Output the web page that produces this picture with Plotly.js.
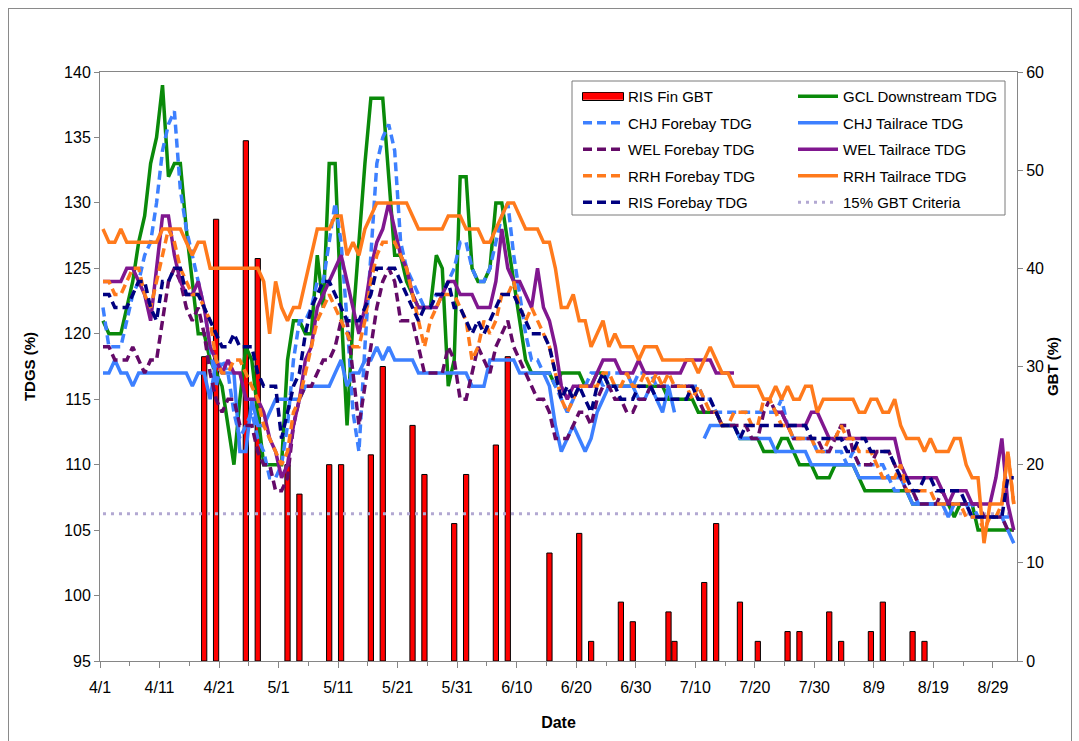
<!DOCTYPE html>
<html><head><meta charset="utf-8">
<script src="https://cdn.plot.ly/plotly-3.0.1.min.js"></script>
<style>
html,body{margin:0;padding:0;background:#fff;overflow:hidden}
#chart{position:absolute;left:0;top:0;width:1079px;height:741px}
#frame{position:absolute;left:8px;top:8px;width:1064px;height:760px;border:1px solid #8a8a8a;box-sizing:border-box;pointer-events:none}
</style></head><body>
<div id="chart"></div><div id="frame"></div>
<script>
const YEAR = 2010;
// Daily TDG series start on 4/1 (one value per day, 4/1 .. 9/1)
const tdgStart = '4/1';

// RIS Fin GBT (%), right axis
const gbtDates = ['4/18','4/20','4/25','4/27','5/2','5/4','5/9','5/11','5/16','5/18','5/23','5/25','5/30','6/1','6/6','6/8','6/15','6/20','6/22','6/27','6/29','7/5','7/6','7/11','7/13','7/17','7/20','7/25','7/27','8/1','8/3','8/8','8/10','8/15','8/17'];
const gbtValues = [31,45,53,41,20,17,20,20,21,30,24,19,14,19,22,31,11,13,2,6,4,5,2,8,14,6,2,3,3,5,2,3,6,3,2];

const criteriaDates = ['4/1','9/1'];
const criteriaValues = [15,15];

const gcl = [
121,120,120,120,122,124,127,129,133,135,139,132,133,133,128,124,120,120,118,117,116,113,110,115,119,118,114,110,110,110,
110,118,121,121,120,120,126,122,133,133,122,113,121,127,133,138,138,138,132,126,126,124,123,122,122,122,126,125,116,118,132,
132,125,124,124,125,130,130,127,124,121,118,117,117,117,117,116,117,117,117,117,116,116,117,117,116,116,116,116,116,116,
116,116,116,116,115,115,115,115,115,114,114,114,114,113,113,113,112,112,112,112,111,111,111,112,112,111,110,110,110,109,109,
109,110,110,110,110,109,108,108,108,108,108,108,108,108,107,107,107,107,107,107,107,106,107,107,107,105,105,105,105,105,105,
105];
const chjFore = [
122,119,119,119,121,123,124,126,127,130,134,136,137,131,128,126,124,122,119,116,118,117,114,112,113,114,112,111,109,109,
110,113,118,121,121,122,124,124,127,130,127,121,114,111,119,126,133,135,136,134,127,125,124,123,122,122,123,123,124,125,127,
127,125,124,124,125,127,129,130,126,123,120,118,118,117,117,116,115,114,115,116,116,117,117,116,117,117,117,117,116,117,
117,117,116,116,116,116,116,116,116,116,115,115,114,114,114,114,114,114,114,114,114,114,114,115,113,112,112,112,112,111,111,
111,111,111,110,111,110,110,110,110,110,109,108,108,108,108,107,107,107,107,107,107,107,107,107,107,106,106,106,106,106,106,
106];
const chjTail = [
117,117,118,117,117,116,117,117,117,117,117,117,117,117,117,116,117,117,115,118,117,117,117,111,111,115,113,113,114,115,
115,115,115,115,116,116,116,116,116,117,118,116,117,117,118,118,119,118,119,118,118,118,118,117,117,117,117,117,117,117,117,
117,116,116,116,118,118,118,118,118,117,117,117,117,117,116,113,111,112,113,112,111,112,114,115,116,116,116,116,116,115,
115,116,115,114,116,114,null,null,null,null,112,113,113,113,113,113,112,112,112,112,112,112,111,111,111,111,111,111,110,110,110,
110,110,110,110,110,109,109,109,109,109,109,109,109,108,107,107,107,107,107,107,106,107,107,107,106,106,106,106,106,106,105,
104];
const welFore = [
119,119,118,118,118,119,118,117,118,118,121,124,125,124,122,121,122,120,117,115,114,115,115,113,113,113,111,110,110,108,
108,109,113,115,116,116,117,118,118,119,121,121,117,113,116,119,122,124,125,124,121,121,121,119,117,117,117,117,119,118,115,
115,117,119,118,117,119,120,121,119,118,117,116,115,115,114,112,112,112,113,114,114,113,115,116,116,115,115,114,114,115,
115,116,116,116,116,116,116,116,116,115,114,114,114,113,113,113,113,113,112,112,114,115,114,114,113,112,112,112,112,112,111,
111,112,113,113,111,110,110,110,111,111,111,110,109,108,108,107,107,107,107,108,107,107,107,107,107,107,106,106,106,106,105,
105];
const welTail = [
124,124,124,124,125,125,124,123,121,125,129,129,126,124,123,123,124,122,119,118,117,118,117,117,115,115,115,114,112,111,
109,110,113,115,118,119,122,123,124,125,126,124,122,120,122,125,127,128,130,128,126,125,123,122,122,122,122,123,124,124,123,
123,123,122,122,122,124,128,125,124,124,123,122,125,122,121,119,116,115,116,116,116,116,117,118,118,118,117,117,117,118,
117,117,117,117,117,117,117,118,118,118,118,118,117,117,117,117,null,null,null,null,null,null,114,114,113,113,113,113,114,114,113,
112,112,112,112,112,112,112,112,112,112,112,112,110,109,109,109,109,109,109,108,107,108,108,108,107,107,107,107,109,112,107,
105];
const rrhFore = [
124,124,123,123,124,125,125,123,122,124,126,128,127,125,124,123,123,122,121,118,117,117,118,118,117,116,115,113,112,111,
110,111,114,115,117,119,121,122,123,122,121,120,119,119,121,124,126,127,127,127,126,125,123,121,119,121,122,123,123,123,122,
121,118,119,121,120,121,123,123,124,122,121,122,121,120,119,117,115,114,115,116,116,116,116,117,117,116,116,117,116,116,
117,116,117,116,117,116,116,116,115,116,115,114,114,113,113,114,114,114,113,113,115,115,114,113,113,112,112,112,112,111,111,
112,112,113,112,112,111,111,111,110,109,109,109,110,108,108,108,108,108,107,107,107,107,107,106,106,106,105,106,106,107,111,
107];
const rrhTail = [
128,127,127,128,127,127,127,127,127,127,128,128,128,128,127,126,127,127,125,125,125,125,125,125,125,125,125,124,120,124,
122,121,122,122,124,126,128,128,128,129,129,126,127,126,128,129,130,130,130,130,130,130,129,128,128,128,128,128,129,129,129,
128,128,128,127,127,128,129,130,130,129,128,128,128,127,127,125,122,122,123,121,121,119,120,121,119,120,119,119,119,118,
119,119,119,118,118,118,118,118,118,117,118,119,118,117,117,116,116,116,116,116,115,115,116,115,116,115,115,116,116,114,115,
115,115,115,115,115,114,114,115,115,114,114,115,113,112,112,112,111,112,111,111,111,112,112,110,109,109,104,107,107,107,111,
107];
const risFore = [
123,123,122,122,122,123,124,124,122,121,124,124,125,125,123,123,123,122,121,120,119,119,120,119,119,119,117,116,116,116,
112,114,116,117,120,122,123,124,124,123,122,121,121,121,122,123,125,125,125,125,124,123,122,121,122,122,123,123,124,122,122,
121,120,121,120,121,122,123,123,123,122,121,120,120,120,119,117,115,116,115,116,115,114,116,117,116,116,115,115,115,116,
116,116,115,115,115,115,115,115,116,115,115,115,114,113,113,113,112,113,113,113,113,113,113,113,113,113,113,113,112,112,112,
112,112,112,111,111,112,112,111,111,111,111,110,109,109,108,108,109,109,108,108,108,108,108,107,106,106,106,106,106,106,109,
109];

const COL = {
  gbt:'#ff0000', gcl:'#0a8a0a', chj:'#3d80ff', welF:'#640a68', welT:'#80178f',
  rrh:'#ff7a1c', ris:'#000080', crit:'#b2a8d2', axis:'#868686'
};
const FONT = 'Liberation Sans, Arial, Helvetica, sans-serif';
const DASH = '9px,5px';

function mdToDate(s){
  const p = s.split('/').map(Number);
  return YEAR+'-'+String(p[0]).padStart(2,'0')+'-'+String(p[1]).padStart(2,'0')+' 12:00';
}
function dailyDates(n){
  const p = tdgStart.split('/').map(Number);
  const out = [];
  for(let i=0;i<n;i++){
    const d = new Date(Date.UTC(YEAR,p[0]-1,p[1]+i,12));
    out.push(d.toISOString().slice(0,10)+' 12:00');
  }
  return out;
}

function line(name, vals, color, dash, legend){
  return {type:'scatter', mode:'lines', name:name, x:dailyDates(vals.length), y:vals,
    yaxis:'y2', line:{color:color, width:3.5, dash:dash||'solid'},
    legend:legend, legendgroup:name, connectgaps:false, hoverinfo:'skip'};
}

const data = [
  {type:'bar', name:'RIS Fin GBT', x:gbtDates.map(mdToDate), y:gbtValues, yaxis:'y',
   width:0.88*86400000, marker:{color:COL.gbt, line:{color:'#000', width:1}}, showlegend:false, hoverinfo:'skip'},
  {type:'scatter', mode:'lines', name:'RIS Fin GBT', x:[null], y:[null], yaxis:'y2',
   line:{color:COL.gbt, width:7}, legend:'legend', legendgroup:'gbt'},
  line('GCL Downstream TDG', gcl, COL.gcl, 'solid', 'legend2'),
  line('CHJ Forebay TDG', chjFore, COL.chj, DASH, 'legend'),
  line('CHJ Tailrace TDG', chjTail, COL.chj, 'solid', 'legend2'),
  line('WEL Forebay TDG', welFore, COL.welF, DASH, 'legend'),
  line('WEL Tailrace TDG', welTail, COL.welT, 'solid', 'legend2'),
  line('RRH Forebay TDG', rrhFore, COL.rrh, DASH, 'legend'),
  line('RRH Tailrace TDG', rrhTail, COL.rrh, 'solid', 'legend2'),
  line('RIS Forebay TDG', risFore, COL.ris, DASH, 'legend'),
  {type:'scatter', mode:'lines', name:'15% GBT Criteria', x:criteriaDates.map(mdToDate), y:criteriaValues,
   yaxis:'y', line:{color:COL.crit, width:3, dash:'3px,5px'}, legend:'legend2', legendgroup:'crit', hoverinfo:'skip'}
];

const legendCommon = {xanchor:'left', yanchor:'top', bgcolor:'rgba(0,0,0,0)', borderwidth:0,
  font:{family:FONT, size:15, color:'#000'}, tracegroupgap:4, itemwidth:40, traceorder:'grouped'};

// pixel -> paper helpers for the legend frame (plot area: x 100..1017, y 72..661)
const px = v => (v-100)/917, py = v => (661-v)/589;

const layout = {
  width:1079, height:741,
  margin:{l:100, r:62, t:72, b:80, pad:0},
  paper_bgcolor:'#ffffff', plot_bgcolor:'rgba(0,0,0,0)',
  font:{family:FONT, size:16, color:'#000'},
  showlegend:true,
  xaxis:{type:'date', range:['2010-04-01 00:00','2010-09-02 01:00'],
    tickformat:'%-m/%-d', tick0:'2010-04-01', dtick:10*86400000,
    ticks:'outside', ticklen:6, tickcolor:COL.axis, tickwidth:1,
    minor:{tick0:'2010-04-01', dtick:5*86400000, ticks:'outside', ticklen:4, tickcolor:COL.axis, showgrid:false},
    showline:true, linecolor:COL.axis, linewidth:1, mirror:true, showgrid:false, zeroline:false,
    tickfont:{family:FONT, size:16, color:'#000'}, ticklabelstandoff:6,
    title:{text:'<b>Date</b>', font:{family:FONT, size:16, color:'#000'}, standoff:21}},
  yaxis:{side:'right', range:[0,60], tick0:0, dtick:10, ticks:'outside', ticklen:5, tickcolor:COL.axis,
    showline:true, linecolor:COL.axis, linewidth:1, showgrid:false, zeroline:false,
    tickfont:{family:FONT, size:16, color:'#000'},
    title:{text:'<b>GBT (%)</b>', font:{family:FONT, size:15, color:'#000'}, standoff:0}},
  yaxis2:{overlaying:'y', side:'left', range:[95,140], tick0:95, dtick:5, ticks:'outside', ticklen:5, tickcolor:COL.axis,
    showline:true, linecolor:COL.axis, linewidth:1, showgrid:false, zeroline:false,
    tickfont:{family:FONT, size:16, color:'#000'},
    title:{text:'<b>TDGS (%)</b>', font:{family:FONT, size:15, color:'#000'}, standoff:24}},
  legend:Object.assign({x:px(578), y:py(80)}, legendCommon),
  legend2:Object.assign({x:px(793), y:py(80)}, legendCommon),
  shapes:[
    {type:'rect', xref:'paper', yref:'paper', layer:'above',
     x0:px(572), x1:px(1005), y0:py(215), y1:py(81),
     line:{color:'#7a7a7a', width:1}, fillcolor:'#ffffff'},
    {type:'rect', xref:'paper', yref:'paper', layer:'above',
     x0:px(582.5), x1:px(623.5), y0:py(100.5), y1:py(92.5),
     line:{color:'#000000', width:1}, fillcolor:'rgba(0,0,0,0)'}
  ]
};

Plotly.newPlot('chart', data, layout, {displayModeBar:false, staticPlot:true});
</script>
</body></html>
